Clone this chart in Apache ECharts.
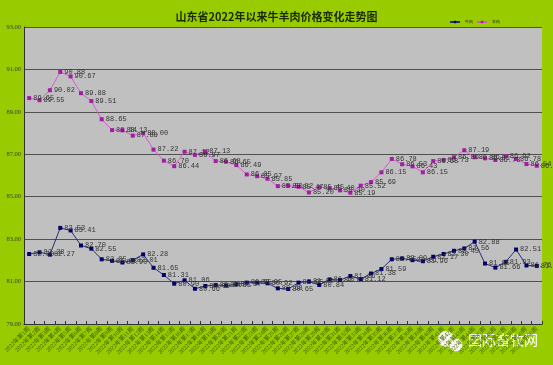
<!DOCTYPE html>
<html><head><meta charset="utf-8">
<script src="https://cdn.jsdelivr.net/npm/echarts@6/dist/echarts.min.js"></script>
<style>html,body{margin:0;padding:0;background:#fff}#c{width:553px;height:365px}</style>
</head><body><div id="c"></div>
<script>
const weeks = [];
for (let i = 1; i <= 50; i++) weeks.push('2022年第' + i + '周');
const beef = [82.30,82.38,82.27,83.53,83.41,82.70,82.55,82.05,81.98,81.90,82.01,82.28,81.65,81.31,80.90,81.06,80.66,80.79,80.84,80.81,80.87,80.95,80.95,80.92,80.68,80.65,80.95,81.00,80.84,81.10,81.07,81.26,81.12,81.38,81.59,82.05,82.09,82.01,81.96,82.17,82.30,82.45,82.56,82.88,81.85,81.66,81.93,82.51,81.76,81.74];
const mutton = [89.65,89.55,90.02,90.88,90.67,89.88,89.51,88.65,88.14,88.13,87.88,88.00,87.22,86.70,86.44,87.12,86.97,87.13,86.68,86.65,86.49,86.05,85.97,85.85,85.50,85.52,85.47,85.20,85.45,85.40,85.30,85.19,85.52,85.69,86.15,86.78,86.53,86.43,86.15,86.68,86.73,86.86,87.19,86.86,86.81,86.73,86.92,86.78,86.54,86.46];
const yTicks = {min: 79, max: 93, interval: 2};

const chart = echarts.init(document.getElementById('c'));
const serif = 'Liberation Serif, "Noto Sans CJK SC", serif';
const lbl = {show: true, position: 'right', distance: 2, fontSize: 7, color: '#333', fontFamily: 'Liberation Mono, monospace', formatter: p => p.value.toFixed(2)};
chart.setOption({
  backgroundColor: '#99CC00',
  animation: false,
  title: {text: '山东省2022年以来牛羊肉价格变化走势图', left: 'center', top: 6,
    textStyle: {fontSize: 11, fontWeight: 'bold', color: '#1a2a00', fontFamily: '"Noto Sans CJK SC", serif'}},
  legend: {right: 48, top: 15, itemWidth: 10, itemHeight: 3, itemGap: 3,
    textStyle: {fontSize: 4, color: '#222'}, data: ['牛肉', '羊肉']},
  grid: {left: 24, right: 11, top: 27, bottom: 41, show: true, backgroundColor: '#C0C0C0', borderWidth: 0},
  xAxis: {type: 'category', data: weeks, boundaryGap: true,
    axisLine: {lineStyle: {color: '#333', width: 1}},
    axisTick: {show: true, inside: true, length: 3, lineStyle: {color: '#333'}},
    axisLabel: {interval: 0, rotate: 45, fontSize: 6, color: '#3d5c00', margin: 4, fontFamily: serif}},
  yAxis: {type: 'value', min: yTicks.min, max: yTicks.max, interval: yTicks.interval,
    axisLine: {show: true, lineStyle: {color: '#333'}},
    axisTick: {show: false},
    splitLine: {lineStyle: {color: '#505050', width: 1}},
    axisLabel: {fontSize: 6.5, color: '#3a3a3a', margin: 3, fontFamily: serif, formatter: v => v.toFixed(2)}},
  series: [
    {name: '牛肉', type: 'line', data: beef, symbol: 'rect', symbolSize: 4,
      lineStyle: {color: '#2b2b7a', width: 1}, itemStyle: {color: '#000066'}, label: lbl},
    {name: '羊肉', type: 'line', data: mutton, symbol: 'rect', symbolSize: 4,
      lineStyle: {color: '#D858D8', width: 1}, itemStyle: {color: '#A020A0'}, label: lbl}
  ],
  graphic: [
    {type: 'circle', shape: {cx: 446, cy: 339, r: 8}, style: {fill: '#f4f4e8'}},
    {type: 'circle', shape: {cx: 456, cy: 345, r: 7}, style: {fill: '#f4f4e8', stroke: '#99CC00', lineWidth: 1}},
    {type: 'text', left: 468, top: 333, style: {text: '国际畜牧网', fontSize: 14, fill: '#ffffff', fontFamily: '"Noto Sans CJK SC", sans-serif'}}
  ]
});
</script></body></html>
